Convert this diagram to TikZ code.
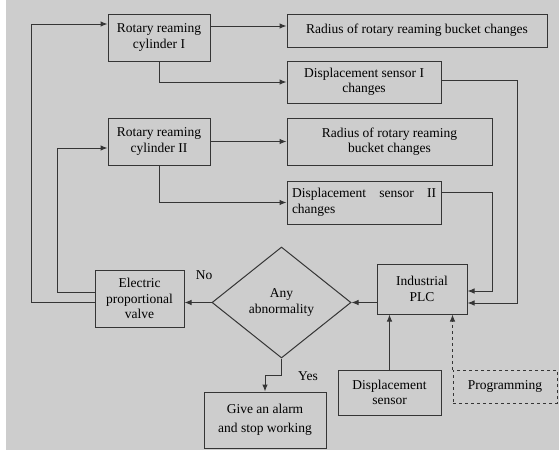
\documentclass[tikz,border=0pt]{standalone}
\usepackage{fontspec}
\setmainfont{Liberation Serif}
\usetikzlibrary{arrows.meta,shapes.geometric}
\definecolor{panel-grey}{HTML}{CDCDCD}
\definecolor{line-grey}{HTML}{353535}

\begin{document}
\begin{tikzpicture}[x=1pt, y=-1pt, line width=1pt, draw=line-grey,
    box/.style={draw=line-grey, rectangle, inner sep=0pt, align=center, font=\fontsize{13.5}{15.5}\selectfont},
    tag/.style={inner sep=0pt, font=\fontsize{13.5}{15.5}\selectfont},
    -{Latex[length=7pt,width=5.5pt]}]
      \fill[white] (0,0) rectangle (559,450);
      \fill[panel-grey] (6,0) rectangle (559,450);

      \node[box, minimum width=102pt, minimum height=47pt] (rc1) at (159,37.5) {Rotary reaming\\cylinder I};
      \node[box, minimum width=260pt, minimum height=33pt] (rad1) at (417,30.5) {Radius of rotary reaming bucket changes};
      \node[box, minimum width=154pt, minimum height=42pt] (dsc1) at (364,82) {Displacement sensor I\\changes};
      \node[box, minimum width=102pt, minimum height=47pt] (rc2) at (159,141.5) {Rotary reaming\\cylinder II};
      \node[box, minimum width=205pt, minimum height=47pt] (rad2) at (389.5,141.5) {Radius of rotary reaming\\bucket changes};
      \node[box, minimum width=154pt, minimum height=43pt, inner xsep=5pt, text width=144pt, align=left] (dsc2) at (364,202.5) {Displacement \hfill sensor \hfill II\\changes};
      \node[box, minimum width=89pt, minimum height=57pt] (epv) at (139.5,298.5) {Electric\\proportional\\valve};
      \node[box, diamond, minimum width=139pt, minimum height=111pt] (any) at (281.5,302.5) {Any\\abnormality};
      \node[box, minimum width=90pt, minimum height=50pt] (plc) at (422,289) {Industrial\\PLC};
      \node[box, minimum width=103pt, minimum height=45pt] (ds) at (389.5,392.5) {Displacement\\sensor};
      \node[box, dashed, minimum width=104pt, minimum height=33pt] (prog) at (505,386.5) {Programming};
      \node[box, minimum width=122pt, minimum height=56pt] (alarm) at (265,420) {Give an alarm\\[4pt]and stop working};
      \node[tag] (no) at (204,275) {No};
      \node[tag] (yes) at (308,376) {Yes};

      \draw (rc1.east |- 0,26) -- (rad1.west |- 0,26);
      \draw (rc1.south) |- (dsc1.west);
      \draw (dsc1.east |- 0,80) -| (517,303) -- (plc.east |- 0,303);
      \draw (rc2.east) -- (rad2.west);
      \draw (rc2.south) |- (dsc2.west);
      \draw (dsc2.east |- 0,192) -| (492,291) -- (plc.east |- 0,291);
      \draw (plc.west |- any.east) -- (any.east);
      \draw (any.west) -- (epv.east |- any.west);
      \draw (any.south) -- ++(0,17) -| (alarm.north);
      \draw (epv.west |- 0,292) -| (57,148) -- (rc2.west |- 0,148);
      \draw (epv.west |- 0,302) -| (31,24) -- (rc1.west |- 0,24);
      \draw (ds.north) -- (ds.north |- plc.south);
      \draw[dashed] (prog.north west) -- (prog.north west |- plc.south);
    \end{tikzpicture}
\end{document}
